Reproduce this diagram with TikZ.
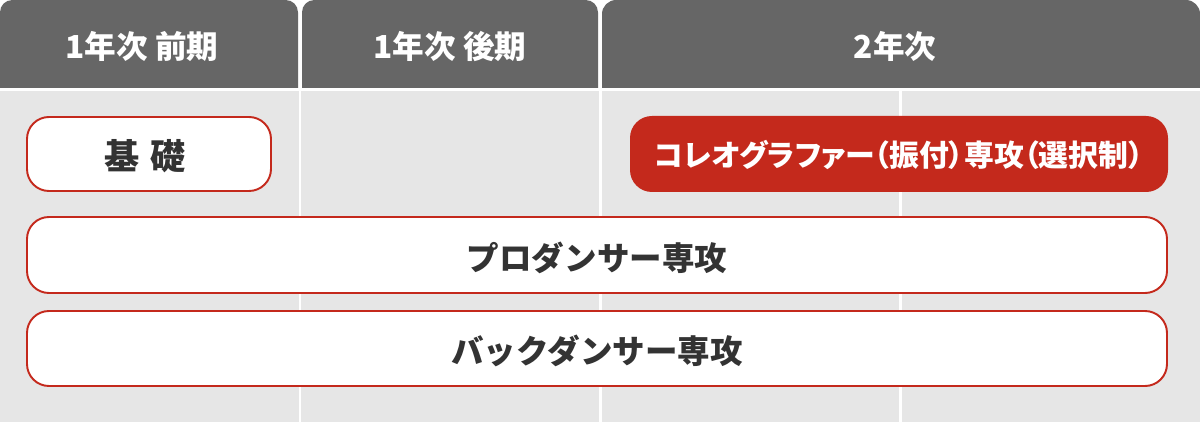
\documentclass[tikz,border=0pt]{standalone}
\usepackage{fontspec}
\setmainfont{Noto Sans CJK JP}
\newfontfamily\jpprop{Noto Sans CJK JP}[RawFeature=+palt]
\definecolor{tabgray}{HTML}{666666}
\definecolor{bodygray}{HTML}{E6E6E6}
\definecolor{courseRed}{HTML}{C4291C}
\definecolor{ink}{HTML}{333333}
\tikzset{
  tabtext/.style={text=white, font=\bfseries\fontsize{18}{18}\selectfont},
  coursebox/.style={draw=courseRed, line width=1.1pt, fill=white, rounded corners=12.5pt},
  coursetext/.style={text=ink, font=\bfseries\fontsize{18.5}{18.5}\selectfont},
}
\begin{document}
\begin{tikzpicture}[x=0.02cm, y=-0.02cm]
        \useasboundingbox (0, 0) rectangle (1200, 422);
        \fill[white] (0, 0) rectangle (1200, 422);

        % Draw the header tabs
        \fill[tabgray, rounded corners=7pt] (0, 88) -- (0, 0) -- (298, 0) -- (298, 88);
        \fill[tabgray, rounded corners=7pt] (302, 88) -- (302, 0) -- (598, 0) -- (598, 88);
        \fill[tabgray, rounded corners=8pt] (602, 88) -- (602, 0) -- (1200, 0) -- (1200, 88);
        \node[tabtext] (first) at (142, 46) {1年次 前期};
        \node[tabtext] (second) at (450, 46) {1年次 後期};
        \node[tabtext] (third) at (895, 46) {2年次};

        % Draw the body columns
        \fill[bodygray] (0, 91) rectangle (1200, 422);
        \foreach \x in {300, 600, 900}
            \draw[white, line width=1.7pt] (\x, 91) -- (\x, 422);

        % Draw the course boxes
        \draw[coursebox] (27, 117) rectangle (271, 191);
        \node[coursetext, font=\bfseries\fontsize{20}{20}\selectfont] (kiso) at (145, 156) {基\hspace{2pt} 礎};

        \fill[courseRed, rounded corners=12.5pt] (630, 116) rectangle (1168, 192);
        \node[text=white, font=\jpprop\bfseries\fontsize{17}{17}\selectfont] (choreo) at (899, 155) {コレオグラファー（振付）専攻（選択制）};

        \draw[coursebox] (27, 217) rectangle (1167, 293);
        \node[coursetext] (producer) at (597, 258) {プロダンサー専攻};

        \draw[coursebox] (27, 311) rectangle (1167, 386);
        \node[coursetext] (back) at (597, 351) {バックダンサー専攻};
\end{tikzpicture}
\end{document}
